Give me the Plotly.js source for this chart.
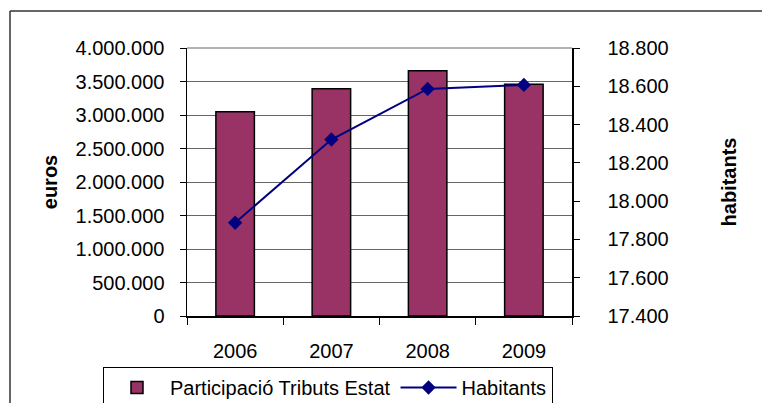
<!DOCTYPE html>
<html>
<head>
<meta charset="utf-8">
<script src="https://cdn.plot.ly/plotly-3.0.1.min.js"></script>
<style>body{margin:0;padding:0;background:#fff;}#chart{width:762px;height:403px;}</style>
</head>
<body>
<div id="chart"></div>
<script>
const years = ["2006", "2007", "2008", "2009"];
const participacio = [3050000, 3390000, 3660000, 3460000];
const habitants = [17887, 18322, 18586, 18607];
const eurosTicks = [0, 500000, 1000000, 1500000, 2000000, 2500000, 3000000, 3500000, 4000000];
const habTicks = [17400, 17600, 17800, 18000, 18200, 18400, 18600, 18800];

const FONT = "Arial, 'Liberation Sans', sans-serif";
// plot area in pixels
const L = 187, R = 572, T = 48, B = 316, W = 762, H = 403;
const px = x => (x - L) / (R - L);
const py = y => (B - y) / (B - T);

const traces = [
  {
    type: "bar", x: years, y: participacio, name: "Participació Tributs Estat",
    marker: {color: "#993366", line: {color: "#000", width: 1.5}},
    yaxis: "y"
  },
  {
    type: "scatter", mode: "lines+markers", x: years, y: habitants, name: "Habitants",
    line: {color: "#000080", width: 2},
    marker: {symbol: "diamond", size: 11, color: "#000080"},
    yaxis: "y2"
  }
];

const layout = {
  width: W, height: H,
  margin: {l: L, r: W - R, t: T, b: H - B, pad: 0, autoexpand: false},
  paper_bgcolor: "#fff", plot_bgcolor: "#fff",
  font: {family: FONT, size: 20, color: "#000"},
  separators: ",.",
  bargap: 0.6,
  showlegend: true,
  xaxis: {
    type: "category", showgrid: false, ticks: "outside", tickson: "boundaries",
    ticklen: 7, tickcolor: "#000", showline: true, linecolor: "#000", linewidth: 1.5,
    ticklabelstandoff: 16, tickfont: {size: 20}, fixedrange: true, automargin: false
  },
  yaxis: {
    range: [0, 4000000], tickvals: eurosTicks, tickformat: ",d",
    showgrid: true, gridcolor: "#666", gridwidth: 1, zeroline: false,
    ticks: "outside", ticklen: 6, tickcolor: "#000",
    showline: true, linecolor: "#000", linewidth: 1.5, mirror: false,
    ticklabelstandoff: 11, automargin: false,
    title: {text: "<b>euros</b>", font: {size: 20}, standoff: 12}
  },
  yaxis2: {
    range: [17400, 18800], tickvals: habTicks, tickformat: ",d",
    overlaying: "y", side: "right", showgrid: false, zeroline: false,
    ticks: "outside", ticklen: 6, tickcolor: "#000",
    showline: true, linecolor: "#000", linewidth: 1.5,
    ticklabelstandoff: 24, automargin: false,
    title: {text: "<b>habitants</b>", font: {size: 20}, standoff: 54}
  },
  legend: {
    orientation: "h", x: px(103), xanchor: "left", y: py(367), yanchor: "top",
    bordercolor: "#000", borderwidth: 1, bgcolor: "#fff",
    font: {size: 20}, traceorder: "normal", itemwidth: 56
  },
  shapes: [
    {type: "line", xref: "paper", yref: "paper", x0: px(10), x1: px(10), y0: py(11), y1: py(410), line: {color: "#333", width: 1.5}},
    {type: "line", xref: "paper", yref: "paper", x0: px(10), x1: px(770), y0: py(11), y1: py(11), line: {color: "#333", width: 1.5}},
    {type: "line", xref: "paper", yref: "paper", x0: 0, x1: 1, y0: 1, y1: 1, line: {color: "#666", width: 1}}
  ]
};

Plotly.newPlot("chart", traces, layout, {displayModeBar: false, staticPlot: true});
</script>
</body>
</html>
